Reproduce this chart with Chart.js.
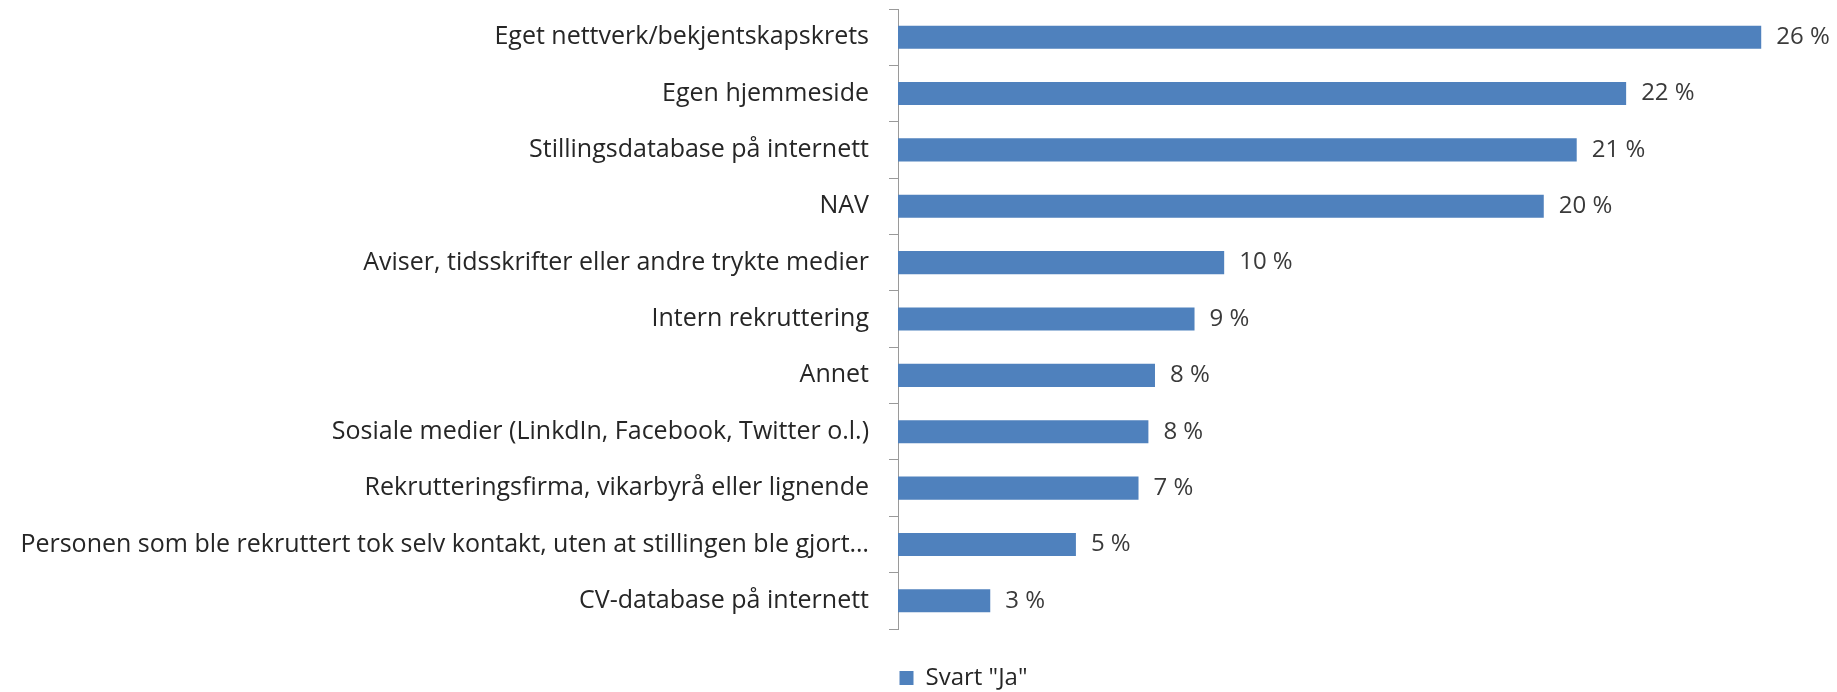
<!DOCTYPE html>
<html>
<head>
<meta charset="utf-8">
<script src="https://cdn.jsdelivr.net/npm/chart.js@4"></script>
<style>
  html, body { margin: 0; padding: 0; background: #fff; }
  #wrap { width: 1837px; height: 692px; }
</style>
</head>
<body>
<div id="wrap"><canvas id="chart"></canvas></div>
<script>
const categories = [
  'Eget nettverk/bekjentskapskrets',
  'Egen hjemmeside',
  'Stillingsdatabase på internett',
  'NAV',
  'Aviser, tidsskrifter eller andre trykte medier',
  'Intern rekruttering',
  'Annet',
  'Sosiale medier (LinkdIn, Facebook, Twitter o.l.)',
  'Rekrutteringsfirma, vikarbyrå eller lignende',
  'Personen som ble rekruttert tok selv kontakt, uten at stillingen ble gjort…',
  'CV-database på internett'
];
const svartJa = [26.2, 22.1, 20.6, 19.6, 9.9, 9.0, 7.8, 7.6, 7.3, 5.4, 2.8];
const seriesName = 'Svart "Ja"';

const FONT = '"Open Sans", sans-serif';
const BLUE = '#4f81bd';

// draws "26 %" etc. just right of each bar end
const valueLabels = {
  id: 'valueLabels',
  afterDatasetsDraw(chart) {
    const ctx = chart.ctx;
    const meta = chart.getDatasetMeta(0);
    ctx.save();
    ctx.font = '24px ' + FONT;
    ctx.fillStyle = '#3a3a3a';
    ctx.textAlign = 'left';
    ctx.textBaseline = 'middle';
    meta.data.forEach((bar, i) => {
      ctx.fillText(Math.round(svartJa[i]) + ' %', bar.x + 15, bar.y);
    });
    ctx.restore();
  }
};

// the legend in the original sits a bit right of centre and lower
const legendShift = {
  id: 'legendShift',
  afterLayout(chart) {
    const lg = chart.legend;
    lg.left += 45; lg.right += 45;
    lg.top += 8; lg.bottom += 8;
  }
};

new Chart(document.getElementById('chart'), {
  type: 'bar',
  data: {
    labels: categories,
    datasets: [{
      label: seriesName,
      data: svartJa,
      backgroundColor: BLUE,
      borderWidth: 0,
      categoryPercentage: 1,
      barPercentage: 0.41
    }]
  },
  options: {
    indexAxis: 'y',
    responsive: true,
    maintainAspectRatio: false,
    animation: false,
    layout: {
      padding: { top: 9, left: 0, right: 0, bottom: 0 }
    },
    scales: {
      x: {
        min: 0,
        max: 28.5,
        ticks: { display: false },
        grid: { display: false },
        border: { display: false },
        afterFit(scale) { scale.height = 27; }
      },
      y: {
        grid: {
          display: true,
          drawOnChartArea: false,
          drawTicks: true,
          tickLength: 9,
          color: '#9a9a9a',
          offset: true
        },
        border: { display: true, color: '#9a9a9a', width: 1 },
        ticks: {
          padding: 20,
          color: '#262626',
          autoSkip: false,
          font: { family: FONT, size: 25 }
        },
        afterFit(scale) {
          scale.width = 898;
          scale.paddingTop = 0;
          scale.paddingBottom = 0;
        }
      }
    },
    plugins: {
      tooltip: { enabled: false },
      legend: {
        position: 'bottom',
        labels: {
          boxWidth: 14,
          boxHeight: 14,
          padding: 2,
          color: '#262626',
          font: { family: FONT, size: 24 }
        }
      }
    }
  },
  plugins: [valueLabels, legendShift]
});
</script>
</body>
</html>
